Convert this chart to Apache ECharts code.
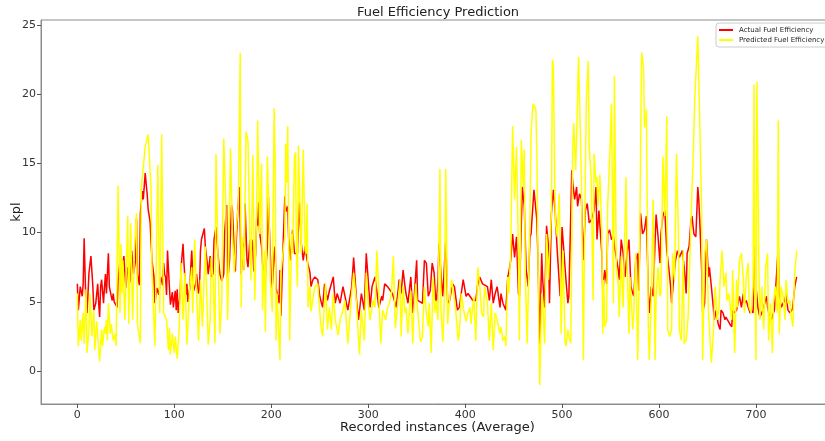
<!DOCTYPE html>
<html>
<head>
<meta charset="utf-8">
<script src="https://cdn.jsdelivr.net/npm/echarts@6/dist/echarts.min.js"></script>
<style>
html,body{margin:0;padding:0;background:#fff;}
#chart{width:825px;height:441px;}
</style>
</head>
<body>
<div id="chart"></div>
<script>
var titleText = 'Fuel Efficiency Prediction';
var xAxisName = 'Recorded instances (Average)';
var yAxisName = 'kpl';
var seriesNames = ['Actual Fuel Efficiency', 'Predicted Fuel Efficiency'];
var xTicks = [0, 100, 200, 300, 400, 500, 600, 700];
var yTicks = [0, 5, 10, 15, 20, 25];

var actualPoints = [[0,6.3],[1,4.4],[3,6.1],[5,5.4],[6,6.3],[7,9.6],[9,4.4],[10,4.2],[12,7.1],[14,8.3],[16,6.1],[17,4.4],[19,4.9],[21,6.3],[22,4.9],[23,3.9],[24,6.1],[25,6.6],[27,4.9],[28,6.1],[29,7.0],[30,5.6],[32,8.5],[33,6.1],[35,5.4],[36,5.1],[37,5.6],[38,5.0],[40,4.9],[41,4.6],
[42,6.5],[44,8.0],[46,7.2],[48,8.3],[50,6.0],[52,7.5],[54,6.4],[56,8.7],[58,7.0],[60,8.0],[61,11.0],[62,7.0],[64,6.2],[65,11.4],[67,13.0],[68,12.4],[70,14.3],[71,13.5],[72,12.8],[73,11.7],[75,10.8],[77,8.0],[79,6.8],[80,4.9],[82,6.0],[84,5.5],[86,6.8],[88,6.2],[89,7.8],[90,7.0],[91,6.8],[92,5.5],[93,8.7],[95,6.0],[96,4.8],[98,5.7],[99,4.6],[101,5.8],[102,4.4],[103,5.9],[104,4.2],[106,5.5],[107,7.5],[109,9.2],[110,7.8],[112,5.5],[113,6.3],[114,5.0],[116,6.0],[117,7.5],[118,8.7],[119,7.0],[120,5.8],[122,6.3],[123,7.0],[125,5.6],[126,6.0],[127,8.7],[128,9.5],[131,10.3],[132,9.0],[134,7.8],[135,7.0],[137,8.3],[138,6.8],[140,7.0],[141,9.5],[143,10.4],[145,8.5],[147,7.0],[149,6.5],[151,7.0],[152,10.0],[154,12.0],[155,6.5],[157,8.0],[159,12.0],[160,11.6],[161,10.0],[162,8.0],[163,7.2],[164,9.5],[165,11.0],[167,13.3],[168,10.5],[169,7.0],[171,9.2],[172,7.3],[173,12.1],[174,10.0],[175,8.0],[176,7.5],[178,9.5],[179,8.0],[180,9.5],[181,9.0],[182,7.2],[184,8.5],[185,11.0],[186,10.5],[187,12.2],[188,10.0],[190,9.0],[191,7.8],[193,6.5],[194,7.0],[196,9.0],[197,12.6],[198,10.4],[200,6.6],[201,6.0],[203,8.5],[204,9.0],[205,6.0],[208,4.9],[209,7.3],[210,4.0],[212,8.5],[214,12.6],[215,11.5],[217,11.9],[218,9.5],[220,8.0],[222,10.2],[224,8.5],[227,8.5],[229,12.2],[231,9.2],[233,8.0],[235,9.0],[237,8.0],[240,7.1],[241,6.1],[243,6.6],[245,6.8],[248,6.6],[250,5.4],[253,4.6],[255,6.3],[258,5.1],[260,5.8],[264,6.8],[266,4.9],[268,5.6],[271,4.9],[274,6.1],[276,6.1],[279,4.4],[281,4.4],[283,6.1],[285,8.2],[288,5.1],[290,3.7],[293,5.6],[296,4.4],[298,8.5],[300,6.6],[302,4.6],[304,6.1],[307,6.8],[308,6.3],[311,4.6],[314,5.4],[315,5.1],[317,6.3],[320,6.1],[322,6.1],[325,5.6],[327,5.1],[329,4.6],[332,6.6],[334,5.6],[336,7.3],[338,6.1],[339,5.6],[341,4.9],[344,6.8],[346,4.2],[347,4.9],[350,8.0],[351,5.1],[353,5.1],[356,4.9],[358,8.0],[360,7.8],[362,5.4],[364,5.8],[366,7.8],[368,7.1],[370,4.6],[372,6.6],[373,9.2],[376,6.1],[377,5.4],[380,9.5],[382,4.9],[384,5.1],[387,6.3],[389,6.1],[392,4.4],[394,4.6],[398,6.6],[401,5.4],[403,5.6],[405,5.6],[408,5.1],[411,5.1],[413,6.3],[415,6.8],[418,6.3],[420,6.3],[423,6.1],[425,5.1],[427,6.6],[429,4.9],[431,5.6],[433,6.1],[436,4.6],[437,5.6],[439,4.9],[442,4.4],[444,6.8],[445,7.1],[447,8.0],[449,9.9],[451,8.2],[453,9.7],[455,5.6],[456,5.4],[459,13.3],[461,11.9],[463,7.3],[465,6.1],[467,9.7],[468,9.9],[471,13.1],[474,10.9],[475,8.5],[477,2.0],[479,8.5],[480,6.6],[482,4.6],[484,10.5],[486,9.0],[487,4.9],[489,11.4],[491,13.1],[493,11.4],[495,8.7],[498,5.4],[500,10.4],[502,8.5],[504,6.6],[506,4.9],[507,5.4],[510,14.5],[511,13.6],[513,12.4],[515,13.3],[516,11.9],[518,12.8],[520,12.4],[522,8.0],[524,11.6],[526,12.1],[528,10.7],[530,10.9],[533,11.6],[535,13.3],[536,9.5],[538,11.6],[541,8.5],[542,5.6],[544,7.3],[546,6.3],[547,9.9],[549,10.2],[551,9.5],[553,9.7],[554,9.0],[556,9.0],[558,7.3],[559,6.6],[561,9.5],[563,8.5],[565,6.8],[567,8.5],[569,9.5],[571,6.1],[573,5.6],[574,5.4],[576,8.0],[578,8.5],[579,5.8],[581,11.4],[583,9.9],[585,10.2],[587,11.2],[589,5.6],[590,4.2],[592,6.1],[594,5.4],[596,9.5],[597,11.3],[599,9.7],[601,7.8],[602,9.9],[604,11.2],[606,11.6],[608,8.7],[610,7.5],[612,6.1],[613,4.9],[615,6.6],[617,8.0],[619,8.7],[621,8.2],[624,8.7],[626,7.5],[628,5.6],[629,8.5],[631,9.0],[633,10.9],[634,11.2],[636,9.9],[638,9.7],[640,13.3],[641,12.4],[642,10.9],[644,7.3],[645,4.2],[647,4.9],[649,9.5],[651,6.8],[652,7.5],[654,6.1],[656,4.6],[657,3.7],[659,4.4],[661,3.4],[663,3.0],[664,4.4],[666,4.2],[668,3.7],[669,3.9],[671,3.9],[673,3.4],[675,3.2],[676,4.4],[678,4.2],[680,4.4],[682,5.1],[683,5.4],[685,4.6],[687,5.6],[688,4.9],[690,5.1],[692,4.6],[694,4.2],[695,4.4],[697,4.2],[699,9.0],[700,6.1],[702,4.6],[704,3.9],[706,4.2],[707,4.4],[709,4.9],[711,5.4],[712,4.6],[714,3.9],[716,3.7],[718,4.2],[719,4.4],[721,4.4],[723,9.0],[724,5.6],[726,4.6],[728,4.9],[730,5.1],[731,5.6],[733,4.4],[735,4.2],[737,4.4],[738,4.6],[740,6.1],[742,6.8]];

var predictedPoints = [[0,5.6],[1,1.8],[3,3.7],[4,2.2],[6,4.2],[7,2.0],[9,5.9],[10,1.3],[12,3.0],[13,5.6],[15,2.5],[17,4.4],[18,1.5],[20,3.6],[23,0.7],[25,3.0],[26,1.8],[28,3.2],[29,2.7],[30,3.7],[31,2.2],[32,4.9],[34,2.7],[35,3.4],[37,2.2],[39,2.7],[40,1.8],[42,13.4],[44,4.2],[45,9.2],[46,5.6],[47,8.0],[49,3.7],[52,11.2],[53,3.4],[55,10.7],[57,3.7],[59,9.0],[61,11.4],[62,3.4],[65,2.0],[66,13.3],[70,16.2],[73,17.1],[76,13.3],[77,7.1],[80,1.8],[83,14.9],[85,4.2],[87,17.1],[89,4.2],[92,3.7],[94,1.5],[95,3.1],[96,1.2],[98,2.7],[100,1.3],[101,2.5],[103,0.9],[105,3.0],[107,7.8],[109,3.7],[111,7.1],[113,1.9],[116,6.1],[118,7.5],[119,4.2],[121,9.5],[123,5.6],[125,2.2],[127,6.6],[129,3.2],[132,9.0],[135,1.9],[137,3.7],[138,8.2],[140,6.6],[142,2.0],[143,15.7],[145,8.5],[147,2.7],[149,5.1],[151,16.8],[153,12.4],[155,3.7],[156,7.3],[158,16.1],[160,9.9],[162,7.1],[164,10.4],[166,11.9],[168,23.0],[169,4.6],[170,9.7],[172,7.3],[174,17.3],[176,16.6],[178,9.5],[179,6.6],[181,15.6],[183,5.1],[185,11.9],[186,18.1],[188,9.9],[190,15.0],[191,4.4],[193,8.7],[194,2.8],[196,15.5],[198,10.4],[199,6.6],[201,4.3],[203,19.0],[204,15.2],[205,2.2],[206,5.6],[209,0.8],[210,7.1],[212,8.5],[214,9.7],[215,16.4],[216,13.6],[217,17.7],[219,2.2],[221,9.9],[222,8.5],[224,15.5],[225,15.8],[226,8.7],[227,6.1],[228,16.3],[230,10.9],[231,8.5],[233,16.0],[235,8.7],[236,8.5],[237,12.1],[238,4.6],[240,6.1],[241,4.3],[243,4.2],[245,6.1],[248,6.3],[251,3.4],[253,2.5],[256,6.3],[258,3.0],[260,4.6],[262,3.0],[264,5.6],[266,3.7],[269,2.6],[271,3.7],[274,4.4],[276,5.1],[279,2.0],[281,1.9],[283,5.6],[285,7.1],[288,4.9],[291,1.2],[293,4.4],[296,2.2],[298,7.1],[300,4.9],[302,3.7],[305,5.1],[307,4.6],[309,8.7],[311,5.4],[313,2.0],[315,4.4],[318,3.7],[320,4.6],[322,4.9],[324,5.6],[326,8.3],[328,3.1],[330,3.0],[333,6.6],[334,2.5],[336,6.1],[338,4.2],[339,4.6],[341,2.7],[344,5.8],[346,2.0],[347,4.2],[349,6.3],[351,4.4],[354,2.1],[356,2.5],[358,6.1],[360,4.2],[362,3.2],[363,4.9],[365,1.3],[367,6.8],[369,4.2],[370,5.1],[372,3.7],[374,14.6],[375,4.6],[377,2.1],[379,6.1],[380,14.6],[382,3.4],[383,4.4],[386,6.6],[388,6.6],[390,4.6],[393,2.2],[394,2.7],[396,5.6],[399,4.2],[401,3.6],[403,4.2],[405,4.6],[406,3.4],[409,5.4],[411,2.2],[413,7.5],[415,6.3],[417,4.2],[419,3.9],[420,6.1],[423,4.9],[425,2.2],[427,4.9],[429,1.5],[431,4.2],[433,3.7],[436,2.7],[437,3.2],[439,2.2],[441,2.5],[442,1.8],[444,6.8],[445,5.6],[447,8.5],[449,17.7],[451,12.4],[453,16.2],[455,8.5],[456,2.2],[458,16.7],[460,13.3],[461,16.0],[462,7.1],[464,2.0],[467,11.4],[468,17.2],[470,19.3],[473,18.9],[474,15.7],[476,3.0],[477,-1.0],[479,5.6],[480,4.9],[482,2.0],[484,9.9],[486,6.6],[487,8.5],[489,11.4],[490,22.5],[491,22.0],[493,10.9],[495,9.7],[497,12.8],[498,9.5],[499,2.7],[501,8.7],[503,2.2],[504,1.8],[506,3.0],[507,2.5],[509,2.0],[511,16.2],[512,17.9],[514,14.5],[515,16.9],[517,22.7],[520,13.8],[522,0.8],[523,8.5],[525,19.6],[527,22.4],[528,16.2],[530,14.0],[532,5.1],[533,15.7],[535,13.6],[536,14.0],[537,11.9],[539,14.2],[541,9.9],[542,2.7],[543,6.6],[544,3.2],[546,3.7],[547,11.9],[549,15.2],[551,19.3],[553,4.9],[554,21.3],[556,7.3],[558,6.3],[559,3.9],[561,8.3],[563,4.6],[566,14.0],[567,8.0],[569,2.7],[570,6.8],[573,3.0],[574,4.2],[576,8.5],[578,0.8],[580,8.5],[582,23.0],[584,22.0],[585,17.6],[587,18.9],[589,3.0],[590,0.8],[592,5.1],[594,12.4],[596,0.8],[597,5.4],[599,7.5],[601,5.4],[602,5.6],[604,15.5],[606,11.2],[608,18.4],[609,3.0],[611,2.5],[613,3.0],[614,8.5],[616,6.6],[618,15.7],[620,9.9],[621,3.0],[623,2.2],[625,8.7],[626,2.0],[628,2.2],[630,3.9],[632,8.5],[633,10.9],[635,15.0],[637,19.8],[638,21.3],[640,24.2],[642,18.1],[644,11.6],[645,0.8],[647,8.5],[649,9.5],[651,4.2],[652,3.2],[654,0.6],[656,2.7],[658,6.1],[660,3.7],[662,4.6],[663,6.6],[665,8.7],[667,6.1],[669,7.1],[670,5.1],[672,5.6],[675,3.7],[676,7.3],[678,1.3],[680,6.6],[681,4.6],[683,8.0],[685,8.5],[687,6.6],[688,4.2],[690,6.8],[692,7.8],[693,4.6],[695,4.2],[697,6.1],[698,20.7],[699,6.1],[700,0.8],[701,20.9],[703,7.8],[704,3.7],[706,6.1],[708,3.0],[710,7.5],[712,8.5],[713,2.2],[715,4.9],[717,1.3],[718,4.9],[720,6.1],[722,4.2],[723,18.1],[724,2.7],[726,6.1],[728,5.4],[730,3.7],[731,6.6],[733,4.9],[735,5.1],[736,4.2],[738,3.2],[740,7.1],[742,8.7]];

var chart = echarts.init(document.getElementById('chart'), null, {renderer: 'canvas'});
var font = 'DejaVu Sans';
chart.setOption({
  animation: false,
  backgroundColor: '#ffffff',
  textStyle: {fontFamily: font},
  title: {
    text: titleText,
    left: 352, top: 1,
    textStyle: {fontFamily: font, fontSize: 13, fontWeight: 'normal', color: '#222'}
  },
  legend: {
    data: seriesNames,
    orient: 'vertical',
    left: 716, top: 23,
    padding: [3, 4, 3, 3],
    itemGap: 2,
    itemWidth: 14, itemHeight: 2,
    icon: 'rect',
    backgroundColor: '#ffffff',
    borderColor: '#cccccc', borderWidth: 1, borderRadius: 3,
    textStyle: {fontFamily: font, fontSize: 7, color: '#222', lineHeight: 8, padding: [0,0,0,1]}
  },
  grid: {
    left: 41, top: 20, right: -9, bottom: 37,
    outerBoundsMode: 'none',
    containLabel: false,
    show: true, borderColor: '#8c8c8c', borderWidth: 1, backgroundColor: 'transparent'
  },
  xAxis: {
    type: 'value', min: -37.5, max: 780.5,
    name: xAxisName, nameLocation: 'middle', nameGap: 17, nameMoveOverlap: false,
    nameTextStyle: {fontFamily: font, fontSize: 13, color: '#222'},
    axisLine: {show: true, onZero: false, lineStyle: {color: '#8c8c8c', width: 1}},
    axisTick: {show: true, customValues: xTicks, length: 4, lineStyle: {color: '#555'}},
    axisLabel: {customValues: xTicks, fontFamily: font, fontSize: 11, color: '#333', margin: 6},
    splitLine: {show: false}
  },
  yAxis: {
    type: 'value', min: -2.38, max: 25.36,
    name: yAxisName, nameLocation: 'middle', nameGap: 18, nameRotate: 90, nameMoveOverlap: false,
    nameTextStyle: {fontFamily: font, fontSize: 13, color: '#222'},
    axisLine: {show: true, onZero: false, lineStyle: {color: '#8c8c8c', width: 1}},
    axisTick: {show: true, customValues: yTicks, length: 4, lineStyle: {color: '#555'}},
    axisLabel: {customValues: yTicks, fontFamily: font, fontSize: 11, color: '#333', margin: 5},
    splitLine: {show: false}
  },
  series: [
    {
      name: seriesNames[0], type: 'line', data: actualPoints,
      showSymbol: false, symbol: 'none',
      lineStyle: {color: '#ff0000', width: 1.5}, itemStyle: {color: '#ff0000'},
      z: 2
    },
    {
      name: seriesNames[1], type: 'line', data: predictedPoints,
      showSymbol: false, symbol: 'none',
      lineStyle: {color: '#ffff00', width: 1.5}, itemStyle: {color: '#ffff00'},
      z: 3
    }
  ]
});
</script>
</body>
</html>
